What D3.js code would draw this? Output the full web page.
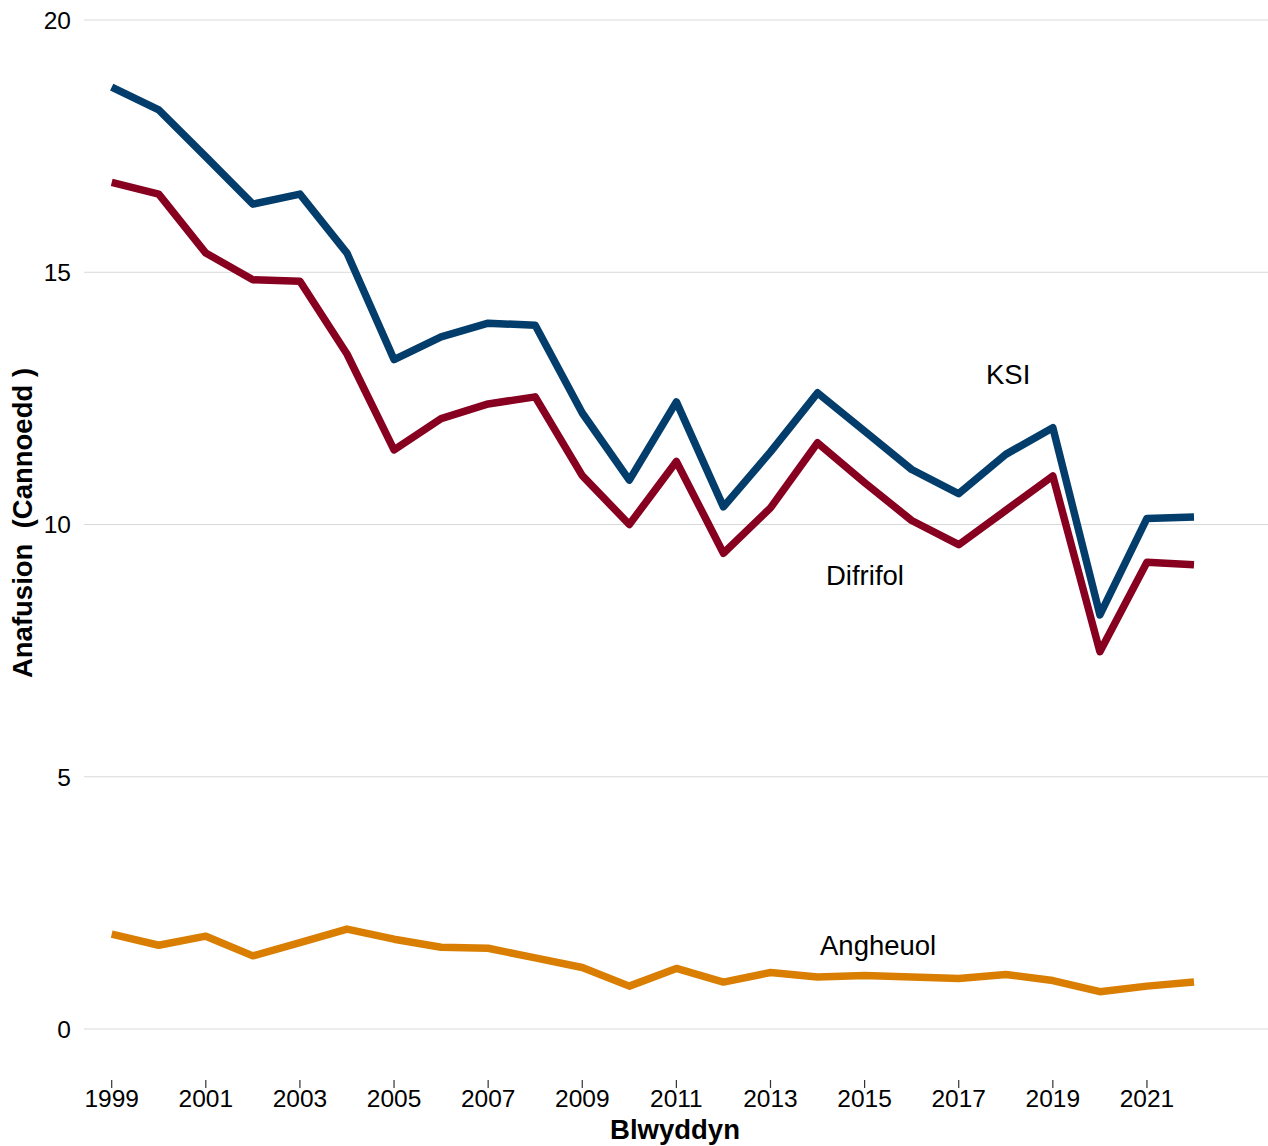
<!DOCTYPE html>
<html>
<head>
<meta charset="utf-8">
<script src="https://cdn.jsdelivr.net/npm/d3@7"></script>
<style>
  html, body { margin: 0; padding: 0; background: #fff; }
  svg { display: block; font-family: "Liberation Sans", Arial, sans-serif; }
</style>
</head>
<body>
<svg id="chart" width="1268" height="1146"></svg>
<script>
const years = d3.range(1999, 2023);
const ksi = [18.67, 18.22, 17.29, 16.35, 16.55, 15.38, 13.27, 13.72, 13.99, 13.95, 12.21, 10.88, 12.43, 10.35, 11.44, 12.61, 11.85, 11.09, 10.61, 11.39, 11.92, 8.21, 10.12, 10.15];
const difrifol = [16.78, 16.55, 15.38, 14.85, 14.82, 13.38, 11.48, 12.10, 12.39, 12.53, 10.97, 10.00, 11.25, 9.43, 10.33, 11.62, 10.83, 10.08, 9.60, 10.28, 10.96, 7.48, 9.25, 9.20];
const angheuol = [1.88, 1.66, 1.84, 1.45, 1.71, 1.98, 1.78, 1.62, 1.60, 1.41, 1.22, 0.85, 1.20, 0.93, 1.12, 1.03, 1.06, 1.03, 1.00, 1.08, 0.96, 0.74, 0.85, 0.93];
const yTicks = [0, 5, 10, 15, 20];
const xTicks = [1999, 2001, 2003, 2005, 2007, 2009, 2011, 2013, 2015, 2017, 2019, 2021];
const seriesNames = ["KSI", "Difrifol", "Angheuol"];
const seriesColors = ["#023d6b", "#870020", "#d97e00"];
const xTitle = "Blwyddyn";
const yTitle = "Anafusion  (Cannoedd )";

const svg = d3.select("#chart");
const x = d3.scaleLinear().domain([1999, 2022]).range([111.7, 1194]);
const y = d3.scaleLinear().domain([0, 20]).range([1029, 20]);

// gridlines
svg.append("g").selectAll("line").data(yTicks).join("line")
  .attr("x1", 84).attr("x2", 1268)
  .attr("y1", d => y(d)).attr("y2", d => y(d))
  .attr("stroke", "#d9d9d9").attr("stroke-width", 1.2);

// y tick labels
svg.append("g").selectAll("text").data(yTicks).join("text")
  .attr("x", 71).attr("y", d => y(d)).attr("dy", "0.36em")
  .attr("text-anchor", "end").attr("font-size", 24.5).attr("fill", "#000")
  .text(d => d);

// x ticks
const xg = svg.append("g");
xg.selectAll("line").data(xTicks).join("line")
  .attr("x1", d => x(d)).attr("x2", d => x(d))
  .attr("y1", 1080).attr("y2", 1088)
  .attr("stroke", "#333").attr("stroke-width", 1.2);
xg.selectAll("text").data(xTicks).join("text")
  .attr("x", d => x(d)).attr("y", 1107)
  .attr("text-anchor", "middle").attr("font-size", 24.5).attr("fill", "#000")
  .text(d => d);

// lines
const data = [ksi, difrifol, angheuol];
const line = d3.line().x((d, i) => x(years[i])).y(d => y(d));
svg.append("g").selectAll("path").data(data).join("path")
  .attr("d", d => line(d))
  .attr("fill", "none")
  .attr("stroke", (d, i) => seriesColors[i])
  .attr("stroke-width", 7.5)
  .attr("stroke-linejoin", "round")
  .attr("stroke-linecap", "butt");

// series labels
const labelPos = [[986, 384], [826, 585], [820, 955]];
svg.append("g").selectAll("text").data(seriesNames).join("text")
  .attr("x", (d, i) => labelPos[i][0]).attr("y", (d, i) => labelPos[i][1])
  .attr("font-size", 27.5).attr("fill", "#000")
  .text(d => d);

// axis titles
svg.append("text")
  .attr("x", 675).attr("y", 1139)
  .attr("text-anchor", "middle").attr("font-size", 27.5).attr("font-weight", "bold")
  .text(xTitle);
svg.append("text")
  .attr("transform", "translate(32,523) rotate(-90)")
  .attr("text-anchor", "middle").attr("font-size", 27.5).attr("font-weight", "bold")
  .style("white-space", "pre")
  .text(yTitle);
</script>
</body>
</html>
